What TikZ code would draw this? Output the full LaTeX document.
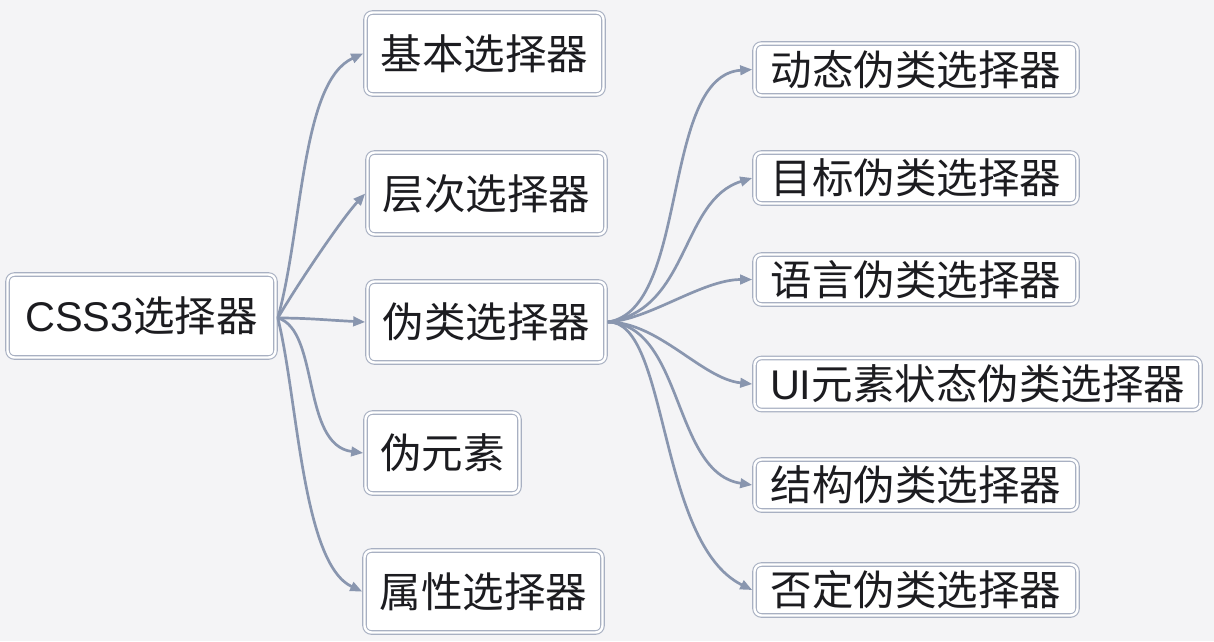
\documentclass[tikz,border=0pt]{standalone}
\usepackage{fontspec}
\usetikzlibrary{arrows.meta}
\newfontfamily\cjk{Noto Sans CJK SC}
\newfontfamily\latn{Liberation Sans}

\definecolor{bgcol}{RGB}{244,244,246}
\definecolor{edgecol}{RGB}{137,150,175}
\definecolor{framecol}{RGB}{168,176,194}
\definecolor{inkcol}{RGB}{28,28,32}

\tikzset{
  topic/.style={rounded corners=7pt, draw=framecol, line width=1.1pt,
    double=white, double distance=2.4pt, fill=white, inner sep=0pt,
    outer sep=2.3pt, text=inkcol, font=\cjk\fontsize{41.5}{46}\selectfont},
  branch/.style={draw=edgecol, line width=2.7pt,
    -{Triangle[length=12pt,width=9.5pt]}},
}

\begin{document}
\begin{tikzpicture}[x=1pt,y=-1pt]
  \fill[bgcol] (0,0) rectangle (1214,641);
  \useasboundingbox (0,0) rectangle (1214,641);

  % central topic
  \node[topic, minimum width=268pt, minimum height=83pt] (root) at (141.5,316)
    {{\latn CSS3}选择器};

  % first level
  \node[topic, minimum width=238pt, minimum height=82pt] (basic) at (484.5,53.5) {基本选择器};
  \node[topic, minimum width=238pt, minimum height=82pt] (level) at (486.5,193.5) {层次选择器};
  \node[topic, minimum width=238pt, minimum height=81pt] (pseudo) at (486.5,322) {伪类选择器};
  \node[topic, minimum width=154pt, minimum height=81pt] (pelem) at (442.5,453) {伪元素};
  \node[topic, minimum width=238pt, minimum height=82pt] (attr) at (483.5,591.5) {属性选择器};

  % second level
  \node[topic, minimum width=323pt, minimum height=52pt] (dyn) at (916,69.5) {动态伪类选择器};
  \node[topic, minimum width=323pt, minimum height=51pt] (target) at (916,178) {目标伪类选择器};
  \node[topic, minimum width=323pt, minimum height=50pt] (lang) at (916,279.5) {语言伪类选择器};
  \node[topic, minimum width=446pt, minimum height=52pt] (ui) at (977.5,384)
    {{\latn UI}元素状态伪类选择器};
  \node[topic, minimum width=323pt, minimum height=51pt] (struct) at (916,485) {结构伪类选择器};
  \node[topic, minimum width=323pt, minimum height=51pt] (neg) at (916,590) {否定伪类选择器};

  % connectors from the central topic
  \coordinate (hubL) at ([yshift=-2pt]root.east);
  \draw[branch] (hubL) .. controls +(25,-90) and +(-62,28) .. (basic.west);
  \draw[branch] (hubL) .. controls +(20,-34) and +(-24,26) .. (level.west);
  \draw[branch] (hubL) .. controls +(30,0) and +(-40,-2) .. (pseudo.west);
  \draw[branch] (hubL) .. controls +(42,12) and +(-62,-8) .. (pelem.west);
  \draw[branch] (hubL) .. controls +(20,80) and +(-60,-28) .. (attr.west);

  % connectors from the pseudo-class topic
  \coordinate (hubR) at (pseudo.east);
  \draw[branch] (hubR) .. controls +(82,-12) and +(-92,6) .. (dyn.west);
  \draw[branch] (hubR) .. controls +(82,-12) and +(-72,22) .. (target.west);
  \draw[branch] (hubR) .. controls +(41,-2) and +(-50,0) .. (lang.west);
  \draw[branch] (hubR) .. controls +(51,0) and +(-50,-5) .. (ui.west);
  \draw[branch] (hubR) .. controls +(76,3) and +(-80,-12) .. (struct.west);
  \draw[branch] (hubR) .. controls +(61,-2) and +(-95,-47) .. (neg.west);
\end{tikzpicture}
\end{document}
